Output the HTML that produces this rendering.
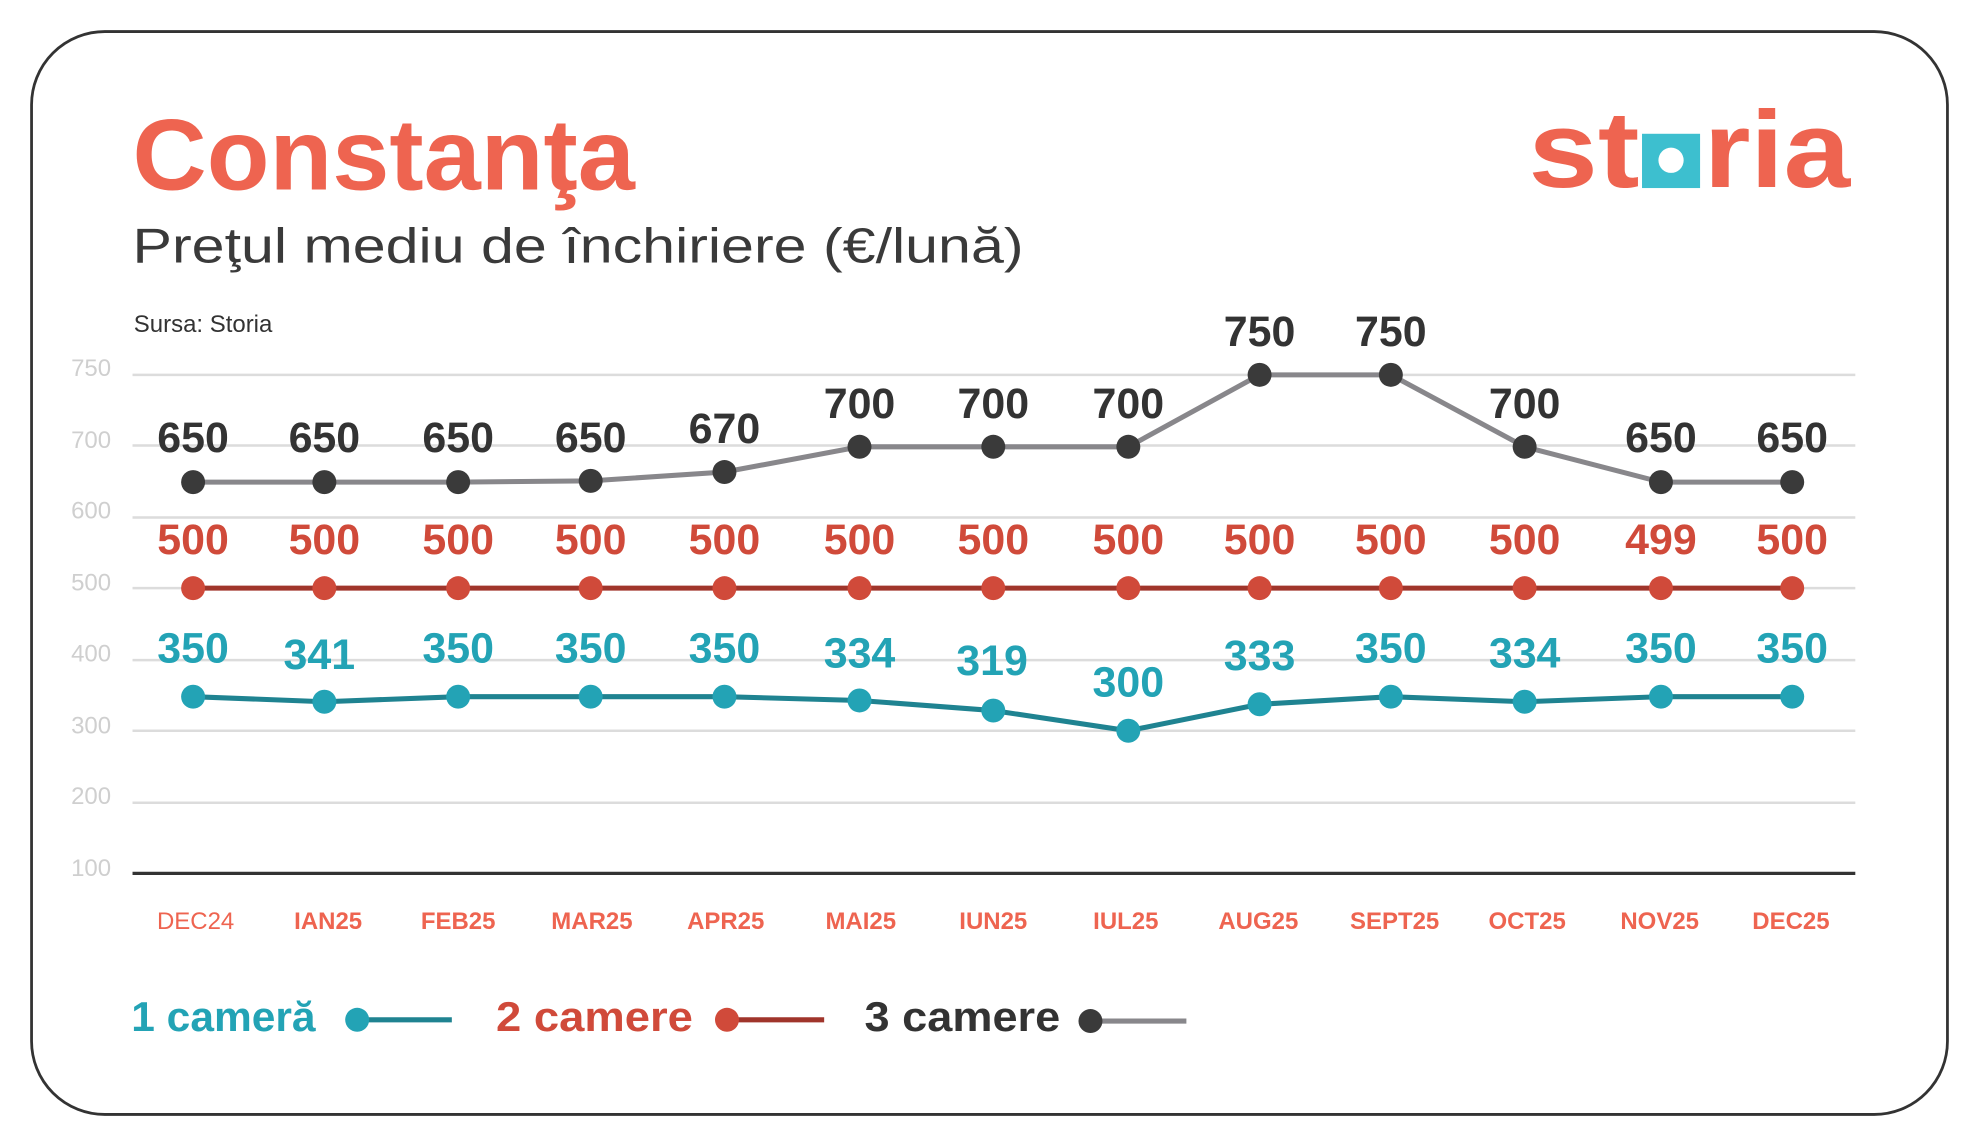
<!DOCTYPE html>
<html><head><meta charset="utf-8"><style>
html,body{margin:0;padding:0;background:#fff}
svg{display:block}
text{font-family:"Liberation Sans",sans-serif}
</style></head><body>
<svg width="1979" height="1146" viewBox="0 0 1568 908" xmlns="http://www.w3.org/2000/svg">
<rect x="25" y="25" width="1518" height="858" rx="58" fill="#fff" stroke="#333" stroke-width="2.2"/>
<text x="105" y="150" font-size="80" font-weight="bold" fill="#ee6450" textLength="398" lengthAdjust="spacingAndGlyphs">Constanţa</text>
<text x="105" y="208" font-size="39" fill="#3a3a3a" textLength="706" lengthAdjust="spacingAndGlyphs">Preţul mediu de închiriere (€/lună)</text>
<text x="106" y="263" font-size="19" fill="#333">Sursa: Storia</text>
<g font-size="86" font-weight="bold" fill="#ee6450">
<text x="1211" y="148" textLength="88" lengthAdjust="spacingAndGlyphs">st</text>
<rect x="1301" y="106" width="46" height="43" fill="#3dbfcf"/>
<circle cx="1324" cy="127" r="10" fill="#fff"/>
<text x="1350" y="148" textLength="116" lengthAdjust="spacingAndGlyphs">ria</text>
</g>
<g font-size="19" fill="#cfcfcf" text-anchor="end">
<text x="88" y="298">750</text><text x="88" y="355">700</text><text x="88" y="411">600</text>
<text x="88" y="468">500</text><text x="88" y="524">400</text><text x="88" y="581">300</text>
<text x="88" y="637">200</text><text x="88" y="694">100</text>
</g>
<g stroke="#dcdcdc" stroke-width="2">
<line x1="105" y1="297" x2="1470" y2="297"/><line x1="105" y1="353" x2="1470" y2="353"/>
<line x1="105" y1="410" x2="1470" y2="410"/><line x1="105" y1="466" x2="1470" y2="466"/>
<line x1="105" y1="523" x2="1470" y2="523"/><line x1="105" y1="579" x2="1470" y2="579"/>
<line x1="105" y1="636" x2="1470" y2="636"/>
</g>
<line x1="105" y1="692" x2="1470" y2="692" stroke="#333" stroke-width="2.5"/>
<polyline fill="none" stroke="#88878b" stroke-width="4" points="153,382 257,382 363,382 468,381 574,374 681,354 787,354 894,354 998,297 1102,297 1208,354 1316,382 1420,382"/>
<g fill="#3a3a3a">
<circle cx="153" cy="382" r="9.5"/><circle cx="257" cy="382" r="9.5"/><circle cx="363" cy="382" r="9.5"/><circle cx="468" cy="381" r="9.5"/><circle cx="574" cy="374" r="9.5"/><circle cx="681" cy="354" r="9.5"/><circle cx="787" cy="354" r="9.5"/><circle cx="894" cy="354" r="9.5"/><circle cx="998" cy="297" r="9.5"/><circle cx="1102" cy="297" r="9.5"/><circle cx="1208" cy="354" r="9.5"/><circle cx="1316" cy="382" r="9.5"/><circle cx="1420" cy="382" r="9.5"/>
</g>
<g font-size="34" font-weight="bold" fill="#333" text-anchor="middle">
<text x="153" y="358">650</text><text x="257" y="358">650</text><text x="363" y="358">650</text><text x="468" y="358">650</text><text x="574" y="351">670</text><text x="681" y="331">700</text><text x="787" y="331">700</text><text x="894" y="331">700</text><text x="998" y="274">750</text><text x="1102" y="274">750</text><text x="1208" y="331">700</text><text x="1316" y="358">650</text><text x="1420" y="358">650</text>
</g>
<line x1="153" y1="466" x2="1420" y2="466" stroke="#a0352b" stroke-width="4"/>
<g fill="#d04a3a">
<circle cx="153" cy="466" r="9.5"/><circle cx="257" cy="466" r="9.5"/><circle cx="363" cy="466" r="9.5"/><circle cx="468" cy="466" r="9.5"/><circle cx="574" cy="466" r="9.5"/><circle cx="681" cy="466" r="9.5"/><circle cx="787" cy="466" r="9.5"/><circle cx="894" cy="466" r="9.5"/><circle cx="998" cy="466" r="9.5"/><circle cx="1102" cy="466" r="9.5"/><circle cx="1208" cy="466" r="9.5"/><circle cx="1316" cy="466" r="9.5"/><circle cx="1420" cy="466" r="9.5"/>
</g>
<g font-size="34" font-weight="bold" fill="#d04a3a" text-anchor="middle">
<text x="153" y="439">500</text><text x="257" y="439">500</text><text x="363" y="439">500</text><text x="468" y="439">500</text><text x="574" y="439">500</text><text x="681" y="439">500</text><text x="787" y="439">500</text><text x="894" y="439">500</text><text x="998" y="439">500</text><text x="1102" y="439">500</text><text x="1208" y="439">500</text><text x="1316" y="439">499</text><text x="1420" y="439">500</text>
</g>
<polyline fill="none" stroke="#1f8391" stroke-width="4" points="153,552 257,556 363,552 468,552 574,552 681,555 787,563 894,579 998,558 1102,552 1208,556 1316,552 1420,552"/>
<g fill="#23a3b5">
<circle cx="153" cy="552" r="9.5"/><circle cx="257" cy="556" r="9.5"/><circle cx="363" cy="552" r="9.5"/><circle cx="468" cy="552" r="9.5"/><circle cx="574" cy="552" r="9.5"/><circle cx="681" cy="555" r="9.5"/><circle cx="787" cy="563" r="9.5"/><circle cx="894" cy="579" r="9.5"/><circle cx="998" cy="558" r="9.5"/><circle cx="1102" cy="552" r="9.5"/><circle cx="1208" cy="556" r="9.5"/><circle cx="1316" cy="552" r="9.5"/><circle cx="1420" cy="552" r="9.5"/>
</g>
<g font-size="34" font-weight="bold" fill="#23a3b5" text-anchor="middle">
<text x="153" y="525">350</text><text x="253" y="530">341</text><text x="363" y="525">350</text><text x="468" y="525">350</text><text x="574" y="525">350</text><text x="681" y="529">334</text><text x="786" y="535">319</text><text x="894" y="552">300</text><text x="998" y="531">333</text><text x="1102" y="525">350</text><text x="1208" y="529">334</text><text x="1316" y="525">350</text><text x="1420" y="525">350</text>
</g>
<g font-size="19" font-weight="bold" fill="#ee6450" text-anchor="middle">
<text x="155" y="736" font-weight="normal">DEC24</text><text x="260" y="736">IAN25</text><text x="363" y="736">FEB25</text><text x="469" y="736">MAR25</text><text x="575" y="736">APR25</text><text x="682" y="736">MAI25</text><text x="787" y="736">IUN25</text><text x="892" y="736">IUL25</text><text x="997" y="736">AUG25</text><text x="1105" y="736">SEPT25</text><text x="1210" y="736">OCT25</text><text x="1315" y="736">NOV25</text><text x="1419" y="736">DEC25</text>
</g>
<g font-size="33" font-weight="bold">
<text x="104" y="817" fill="#23a3b5" textLength="146" lengthAdjust="spacingAndGlyphs">1 cameră</text>
<line x1="283" y1="808" x2="358" y2="808" stroke="#1f8391" stroke-width="4"/>
<circle cx="283" cy="808" r="9.5" fill="#23a3b5"/>
<text x="393" y="817" fill="#d04a3a" textLength="156" lengthAdjust="spacingAndGlyphs">2 camere</text>
<line x1="576" y1="808" x2="653" y2="808" stroke="#a0352b" stroke-width="4"/>
<circle cx="576" cy="808" r="9.5" fill="#d04a3a"/>
<text x="685" y="817" fill="#333" textLength="155" lengthAdjust="spacingAndGlyphs">3 camere</text>
<line x1="864" y1="809" x2="940" y2="809" stroke="#88878b" stroke-width="4"/>
<circle cx="864" cy="809" r="9.5" fill="#3a3a3a"/>
</g>
</svg>
</body></html>
